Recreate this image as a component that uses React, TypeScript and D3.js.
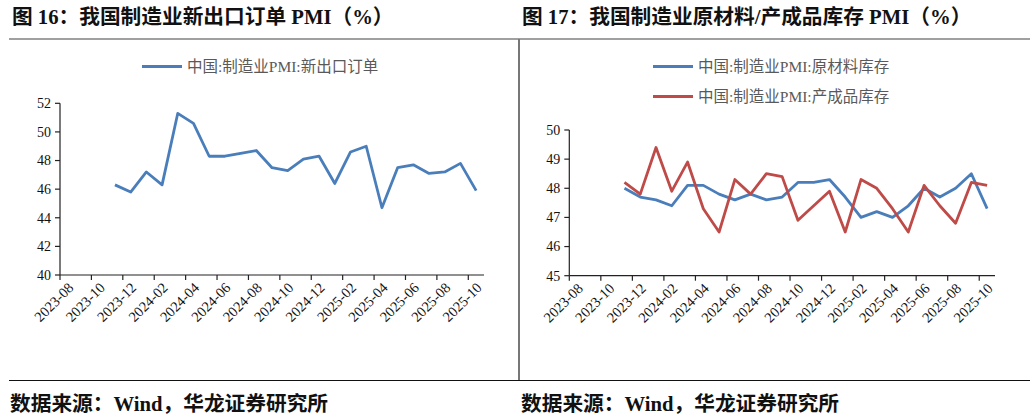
import React from "react";
import * as d3 from "d3";

// 月份类目（2023-08 至 2025-10）
const months = [
  "2023-08", "2023-09", "2023-10", "2023-11", "2023-12",
  "2024-01", "2024-02", "2024-03", "2024-04", "2024-05", "2024-06",
  "2024-07", "2024-08", "2024-09", "2024-10", "2024-11", "2024-12",
  "2025-01", "2025-02", "2025-03", "2025-04", "2025-05", "2025-06",
  "2025-07", "2025-08", "2025-09", "2025-10",
];

const tickMonths = [
  "2023-08", "2023-10", "2023-12", "2024-02", "2024-04", "2024-06", "2024-08",
  "2024-10", "2024-12", "2025-02", "2025-04", "2025-06", "2025-08", "2025-10",
];

// 新出口订单（前三个月无数据）
const newExportOrders = [
  null, null, null, 46.3, 45.8,
  47.2, 46.3, 51.3, 50.6, 48.3, 48.3,
  48.5, 48.7, 47.5, 47.3, 48.1, 48.3,
  46.4, 48.6, 49.0, 44.7, 47.5, 47.7,
  47.1, 47.2, 47.8, 45.9,
];

const rawMaterialInv = [
  null, null, null, 48.0, 47.7,
  47.6, 47.4, 48.1, 48.1, 47.8, 47.6,
  47.8, 47.6, 47.7, 48.2, 48.2, 48.3,
  47.7, 47.0, 47.2, 47.0, 47.4, 48.0,
  47.7, 48.0, 48.5, 47.3,
];

const finishedGoodsInv = [
  null, null, null, 48.2, 47.8,
  49.4, 47.9, 48.9, 47.3, 46.5, 48.3,
  47.8, 48.5, 48.4, 46.9, 47.4, 47.9,
  46.5, 48.3, 48.0, 47.3, 46.5, 48.1,
  47.4, 46.8, 48.2, 48.1,
];

const leftTicks = [40, 42, 44, 46, 48, 50, 52];
const rightTicks = [45, 46, 47, 48, 49, 50];

const BLUE = "#4A7EBB";
const RED = "#BE4B48";
const SERIF = "'Liberation Serif', 'Times New Roman', 'Noto Sans CJK SC', serif";
const TITLE_FONT = "'Liberation Serif', 'Noto Sans CJK SC', serif";

type Series = { name: string; values: (number | null)[]; color: string };

interface PanelProps {
  x0: number;
  x1: number;
  yTop: number;
  yBottom: number;
  domain: [number, number];
  ticks: number[];
  series: Series[];
  legendX: number;
  legendY: number;
}

const Panel: React.FC<PanelProps> = ({ x0, x1, yTop, yBottom, domain, ticks, series, legendX, legendY }) => {
  const x = d3.scaleBand<string>().domain(months).range([x0, x1]).padding(0);
  const y = d3.scaleLinear().domain(domain).range([yBottom, yTop]);
  const bw = x.bandwidth();

  const line = d3
    .line<number | null>()
    .defined((d) => d != null)
    .x((_, i) => (x(months[i]) || 0) + bw / 2)
    .y((d) => y(d as number));

  return (
    <g>
      {/* y axis */}
      <line x1={x0} x2={x0} y1={yTop} y2={yBottom} stroke="#222" strokeWidth={1.2} />
      {ticks.map((t) => (
        <g key={t}>
          <line x1={x0 - 5} x2={x0} y1={y(t)} y2={y(t)} stroke="#222" strokeWidth={1.2} />
          <text x={x0 - 9} y={y(t)} dy="0.35em" textAnchor="end" fontSize={14} fontFamily={SERIF} fill="#111">
            {t}
          </text>
        </g>
      ))}
      {/* x axis */}
      <line x1={x0} x2={x1} y1={yBottom} y2={yBottom} stroke="#222" strokeWidth={1.2} />
      {tickMonths.map((m) => {
        const tx = x(m) || 0;
        const cx = tx + bw / 2;
        return (
          <g key={m}>
            <line x1={tx} x2={tx} y1={yBottom} y2={yBottom + 5} stroke="#222" strokeWidth={1.2} />
            <text
              transform={`translate(${cx + 3},${yBottom + 10}) rotate(-45)`}
              dy="0.35em"
              textAnchor="end"
              fontSize={14.5}
              fontFamily={SERIF}
              fill="#111"
            >
              {m}
            </text>
          </g>
        );
      })}
      {series.map((s) => (
        <path
          key={s.name}
          d={line(s.values) || ""}
          fill="none"
          stroke={s.color}
          strokeWidth={2.8}
          strokeLinejoin="round"
        />
      ))}
      {/* legend */}
      {series.map((s, i) => (
        <g key={s.name} transform={`translate(${legendX},${legendY + i * 30})`}>
          <line x1={0} x2={40} y1={0} y2={0} stroke={s.color} strokeWidth={2.8} />
          <text x={45} y={0} dy="0.35em" fontSize={15.5} fontFamily={SERIF} fill="#595959">
            {s.name}
          </text>
        </g>
      ))}
    </g>
  );
};

export default function App() {
  return (
    <div>
      <style>{`body{margin:0;background:#fff}`}</style>
      <svg width={1030} height={414} style={{ display: "block" }}>
        <rect width={1030} height={414} fill="#fff" />
        {/* titles */}
        <text x={12} y={24} fontSize={20.7} fontWeight="bold" fontFamily={TITLE_FONT} fill="#111">
          图 16：我国制造业新出口订单 PMI（%）
        </text>
        <text x={522} y={24} fontSize={20.7} fontWeight="bold" fontFamily={TITLE_FONT} fill="#111">
          图 17：我国制造业原材料/产成品库存 PMI（%）
        </text>
        {/* frame */}
        <line x1={9} x2={1030} y1={39} y2={39} stroke="#808080" strokeWidth={1.5} />
        <line x1={519} x2={519} y1={39} y2={380} stroke="#777" strokeWidth={2} />
        <line x1={9} x2={1030} y1={380.5} y2={380.5} stroke="#111" strokeWidth={1.2} />

        <Panel
          x0={60}
          x1={484}
          yTop={103.3}
          yBottom={275}
          domain={[40, 52]}
          ticks={leftTicks}
          series={[{ name: "中国:制造业PMI:新出口订单", values: newExportOrders, color: BLUE }]}
          legendX={142}
          legendY={66.5}
        />
        <Panel
          x0={569.3}
          x1={995}
          yTop={130}
          yBottom={275.7}
          domain={[45, 50]}
          ticks={rightTicks}
          series={[
            { name: "中国:制造业PMI:原材料库存", values: rawMaterialInv, color: BLUE },
            { name: "中国:制造业PMI:产成品库存", values: finishedGoodsInv, color: RED },
          ]}
          legendX={653}
          legendY={66.5}
        />

        {/* sources */}
        <text x={10} y={411} fontSize={20.7} fontWeight="bold" fontFamily={TITLE_FONT} fill="#111">
          数据来源：Wind，华龙证券研究所
        </text>
        <text x={521} y={411} fontSize={20.7} fontWeight="bold" fontFamily={TITLE_FONT} fill="#111">
          数据来源：Wind，华龙证券研究所
        </text>
      </svg>
    </div>
  );
}
